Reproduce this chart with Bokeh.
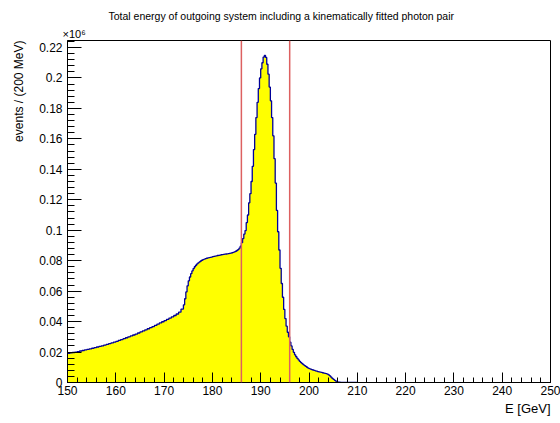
import numpy as np
from bokeh.plotting import figure
from bokeh.models import Range1d, FixedTicker, Span, NumeralTickFormatter, Title
from bokeh.embed import file_html
from bokeh.resources import INLINE

# Total energy of the outgoing system, in units of 10^6 events per 200 MeV.
# Smooth low-energy tail: 0.5 GeV steps from 150 to 174 GeV.
tail_start = 150.0
tail_step = 0.5
tail_counts = [
    0.0191, 0.0194, 0.0197, 0.0200, 0.0203, 0.0207, 0.0210, 0.0214,  # 150-154
    0.0217, 0.0221, 0.0225, 0.0229, 0.0233, 0.0237, 0.0241, 0.0246,  # 154-158
    0.0250, 0.0255, 0.0260, 0.0265, 0.0270, 0.0276, 0.0282, 0.0288,  # 158-162
    0.0294, 0.0300, 0.0306, 0.0312, 0.0318, 0.0325, 0.0332, 0.0339,  # 162-166
    0.0346, 0.0353, 0.0360, 0.0367, 0.0375, 0.0383, 0.0391, 0.0399,  # 166-170
    0.0407, 0.0415, 0.0423, 0.0431, 0.0440, 0.0450, 0.0462, 0.0482,  # 170-174
]
# Shoulder, peak and fall-off: 0.25 GeV steps from 174 to 210 GeV.
peak_start = 174.0
peak_step = 0.25
peak_counts = [
    0.0510, 0.0550, 0.0595, 0.0635, 0.0668, 0.0693, 0.0715, 0.0733,  # 174-176
    0.0748, 0.0760, 0.0770, 0.0779, 0.0786, 0.0792, 0.0798, 0.0803,  # 176-178
    0.0807, 0.0810, 0.0813, 0.0816, 0.0818, 0.0820, 0.0822, 0.0824,  # 178-180
    0.0826, 0.0828, 0.0830, 0.0832, 0.0834, 0.0835, 0.0837, 0.0839,  # 180-182
    0.0840, 0.0841, 0.0843, 0.0844, 0.0845, 0.0846, 0.0848, 0.0850,  # 182-184
    0.0852, 0.0855, 0.0858, 0.0862, 0.0867, 0.0873, 0.0882, 0.0895,  # 184-186
    0.0918, 0.0945, 0.0975, 0.0998, 0.1050, 0.1100, 0.1180, 0.1240,  # 186-188
    0.1320, 0.1420, 0.1530, 0.1630, 0.1740, 0.1840, 0.1930, 0.2000,  # 188-190
    0.2060, 0.2100, 0.2137, 0.2148, 0.2135, 0.2090, 0.2025, 0.1940,  # 190-192
    0.1850, 0.1740, 0.1620, 0.1470, 0.1310, 0.1130, 0.0990, 0.0870,  # 192-194
    0.0750, 0.0650, 0.0560, 0.0480, 0.0420, 0.0370, 0.0330, 0.0300,  # 194-196
    0.0265, 0.0240, 0.0217, 0.0198, 0.0182, 0.0169, 0.0158, 0.0148,  # 196-198
    0.0139, 0.0131, 0.0124, 0.0117, 0.0111, 0.0106, 0.0100, 0.0095,  # 198-200
    0.0091, 0.0088, 0.0085, 0.0082, 0.0080, 0.0077, 0.0075, 0.0072,  # 200-202
    0.0070, 0.0068, 0.0066, 0.0064, 0.0062, 0.0060, 0.0058, 0.0055,  # 202-204
    0.0050, 0.0043, 0.0035, 0.0027, 0.0020, 0.0014, 0.0009, 0.0005,  # 204-206
    0.0003, 0.0002, 0.0001, 0.0001, 0.0, 0.0, 0.0, 0.0,              # 206-208
    0.0, 0.0, 0.0, 0.0, 0.0, 0.0, 0.0, 0.0,                          # 208-210
]

# signal window cuts (GeV)
cut_low = 186.0
cut_high = 196.0

x_ticks = [150, 160, 170, 180, 190, 200, 210, 220, 230, 240, 250]
y_ticks = [0.0, 0.02, 0.04, 0.06, 0.08, 0.10, 0.12, 0.14, 0.16, 0.18, 0.20, 0.22]

FONT = "Liberation Sans"

p = figure(
    width=560, height=423,
    output_backend="svg", toolbar_location=None,
    x_range=Range1d(150, 250), y_range=Range1d(0, 0.2246),
    min_border_left=67, min_border_right=10, min_border_top=40, min_border_bottom=41,
)
p.title.visible = False
p.grid.visible = False
p.background_fill_color = "white"
p.border_fill_color = "white"
p.outline_line_color = "black"
p.outline_line_width = 1

# bin edges of both segments, joined into one histogram
edges = np.concatenate([
    tail_start + tail_step * np.arange(len(tail_counts)),
    peak_start + peak_step * np.arange(len(peak_counts) + 1),
])
counts = np.array(tail_counts + peak_counts)
step_y = np.append(counts, counts[-1])

p.varea_step(x=edges, y1=np.zeros_like(step_y), y2=step_y, step_mode="after",
             fill_color="#ffff00")
p.step(x=edges, y=step_y, mode="after", line_color="#000099", line_width=1.3)

# cut lines
for loc in (cut_low, cut_high):
    p.add_layout(Span(location=loc, dimension="height", line_color="#dd6060",
                      line_width=1.5))

# axes, ROOT style: ticks pointing into the frame
xa = p.xaxis[0]
xa.ticker = FixedTicker(ticks=x_ticks, minor_ticks=list(np.arange(150, 251, 2)))
xa.major_tick_in = 10
xa.major_tick_out = 0
xa.minor_tick_in = 5
xa.minor_tick_out = 0
xa.major_label_standoff = 3
xa.major_label_text_font = FONT
xa.major_label_text_font_size = "12px"
xa.major_label_text_color = "black"
xa.axis_line_color = "black"

ya = p.yaxis[0]
ya.ticker = FixedTicker(ticks=y_ticks, minor_ticks=list(np.arange(0, 0.2241, 0.004)))
ya.formatter = NumeralTickFormatter(format="0.[00]")
ya.major_tick_in = 14
ya.major_tick_out = 0
ya.minor_tick_in = 7
ya.minor_tick_out = 0
ya.major_label_standoff = 5
ya.major_label_text_font = FONT
ya.major_label_text_font_size = "12px"
ya.major_label_text_color = "black"
ya.axis_line_color = "black"

def title(text, size, align, offset=0, standoff=0, vertical_align="bottom"):
    return Title(text=text, align=align, offset=offset, standoff=standoff,
                 vertical_align=vertical_align,
                 text_font=FONT, text_font_size=size, text_font_style="normal",
                 text_color="black")

# exponent marker right above the frame, main title above it
p.add_layout(title("\u00d710\u2076", "11px", "left", offset=-5, standoff=2), "above")
p.add_layout(title("Total energy of outgoing system including a kinematically fitted photon pair",
                   "10.5px", "left", offset=41, standoff=6), "above")
# axis titles, ROOT style: aligned to the far end of each axis
p.add_layout(title("events / (200 MeV)", "12px", "right", standoff=18,
                   vertical_align="top"), "left")
p.add_layout(title("E [GeV]", "13px", "right", standoff=3), "below")

open("out.html", "w").write(file_html(p, INLINE))
